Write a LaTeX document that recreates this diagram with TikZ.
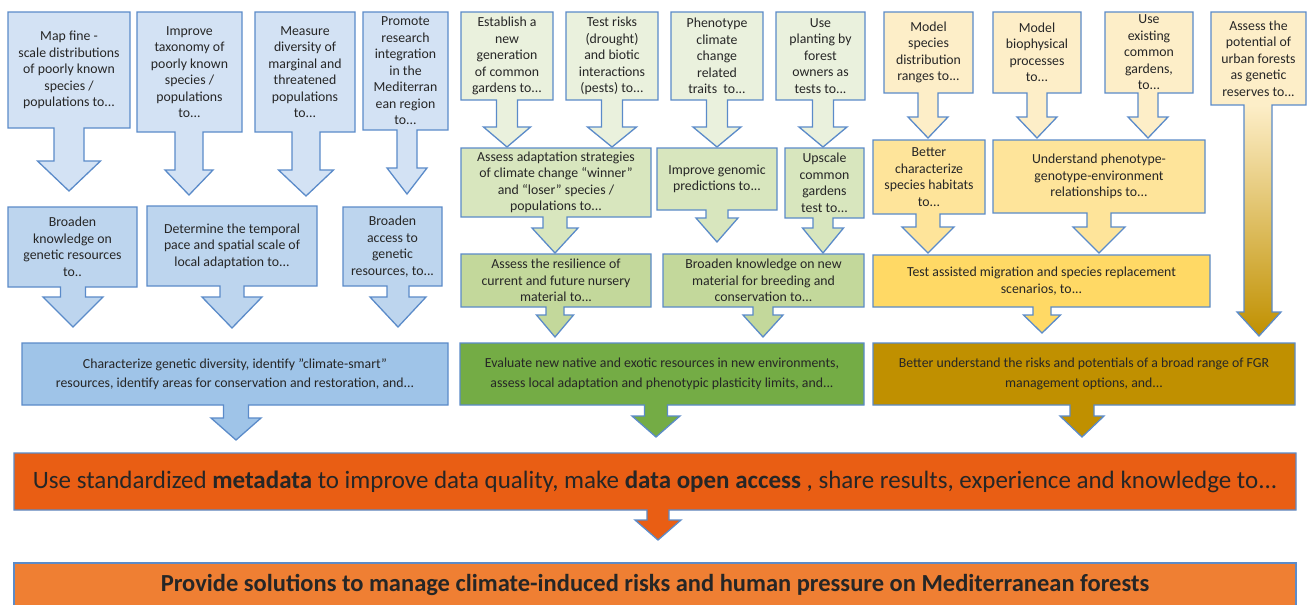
\documentclass[tikz,border=0pt]{standalone}
\usepackage{fontspec}
\setmainfont{Carlito}
\definecolor{bord}{HTML}{5B8BC9}
\definecolor{txtc}{HTML}{262626}
\definecolor{btop}{HTML}{D3E2F4}
\definecolor{bmid}{HTML}{BDD5EE}
\definecolor{bbig}{HTML}{9FC4E8}
\definecolor{gtop}{HTML}{EAF1DD}
\definecolor{gmid}{HTML}{D8E6BE}
\definecolor{glow}{HTML}{C3D89B}
\definecolor{gbig}{HTML}{74AC45}
\definecolor{ytop}{HTML}{FDEEC8}
\definecolor{ymid}{HTML}{FEE49A}
\definecolor{ylow}{HTML}{FFD965}
\definecolor{ybig}{HTML}{C09000}
\definecolor{ymidsh}{HTML}{FFD75E}
\definecolor{orng}{HTML}{E95E14}
\definecolor{orlt}{HTML}{EF7F33}
\tikzset{
  co/.style={draw=bord, line width=1.3pt, line join=miter},
  stxt/.style={align=center, text=txtc, font=\fontsize{13.8}{16.5}\selectfont, inner sep=0pt},
  btxt/.style={align=center, text=txtc, font=\fontsize{13.8}{19.5}\selectfont, inner sep=0pt},
  ltxt/.style={align=center, text=txtc, font=\fontsize{25}{28}\selectfont, inner sep=0pt}
}
\newcommand\sethw[2]{\def\sw{#1}\def\hw{#2}}
\newcommand\callout[9]{%
  \draw[co,fill=#2] (#3,#4) -- (#5,#4) -- (#5,#6) -- (#7+\sw,#6) -- (#7+\sw,#8) -- (#7+\hw,#8) -- (#7,#9) -- (#7-\hw,#8) -- (#7-\sw,#8) -- (#7-\sw,#6) -- (#3,#6) -- cycle;
  \coordinate (#1) at ({(#3+#5)/2},{(#4+#6)/2});
}
\newcommand\sq{\symbol{"22}}
\begin{document}
\begin{tikzpicture}[x=1pt,y=-1pt]
\useasboundingbox (0,0) rectangle (1307,605);
\clip (0,0) rectangle (1307,605);
\fill[white] (0,0) rectangle (1307,605);
% ---------- blue column
\sethw{15}{31.5}\callout{t1c}{btop}{8}{12}{130}{128}{69}{161}{191}
\sethw{14}{24}\callout{t2c}{btop}{137}{12}{242}{132}{189}{170}{195}
\sethw{14}{27.5}\callout{t3c}{btop}{255}{12}{355}{132}{306}{170}{196}
\sethw{10}{20}\callout{t4c}{btop}{363}{12}{448}{130}{407}{168}{194}
\sethw{12.5}{30}\callout{b1c}{bmid}{8}{207}{137}{287}{73}{297}{327}
\sethw{12}{30}\callout{b2c}{bmid}{147}{206}{317}{286}{232}{297}{328}
\sethw{11}{28}\callout{b3c}{bmid}{343}{207}{442}{286}{398}{297}{327}
\sethw{12.5}{25}\callout{bbc}{bbig}{22}{343}{448}{405}{236}{418}{440}
% ---------- green column
\sethw{10.5}{23.5}\callout{g1c}{gtop}{461}{12}{553}{100}{507}{127}{147}
\sethw{10.5}{24.5}\callout{g2c}{gtop}{566}{12}{658}{100}{612}{127}{147}
\sethw{10.5}{24}\callout{g3c}{gtop}{671}{12}{763}{100}{717}{127}{147}
\sethw{10.5}{24}\callout{g4c}{gtop}{776}{12}{865}{100}{823}{127}{147}
\sethw{12}{23}\callout{g5c}{gmid}{461}{148}{651}{217}{555}{228}{253}
\sethw{11}{21}\callout{g6c}{gmid}{657}{148}{777}{210}{717}{218}{242}
\sethw{10}{20.5}\callout{g7c}{gmid}{785}{148}{864}{218}{823}{228}{253}
\sethw{9}{18.5}\callout{g8c}{glow}{461}{254}{651}{307}{555}{315}{337}
\sethw{10}{20}\callout{g9c}{glow}{663}{254}{864}{307}{763}{315}{337}
\sethw{11.5}{24}\callout{gbc}{gbig}{460}{343}{864}{405}{656}{416}{437}
% ---------- yellow column
\sethw{10}{20}\callout{y1c}{ytop}{884}{12}{973}{93}{928}{117}{138}
\sethw{10}{20}\callout{y2c}{ytop}{993}{12}{1081}{93}{1037}{117}{138}
\sethw{10}{20}\callout{y3c}{ytop}{1105}{12}{1193}{93}{1148}{117}{138}
\sethw{12}{26}\callout{y5c}{ymid}{873}{140}{985}{214}{928}{227}{253}
\sethw{12}{26}\callout{y6c}{ymid}{993}{140}{1205}{213}{1099}{227}{253}
\sethw{9}{18.5}\callout{y7c}{ylow}{873}{255}{1210}{307}{1042}{315}{333}
\sethw{12}{22}\callout{ybc}{ybig}{873}{343}{1295}{405}{1082}{416}{437}
% long gradient arrow
\shade[top color=ytop, middle color=ymidsh, bottom color=ybig]
  (1244,105) -- (1272,105) -- (1272,312) -- (1281,312) -- (1259,336) -- (1237,312) -- (1244,312) -- cycle;
\fill[ytop] (1211,12) rectangle (1306,105);
\draw[co] (1211,12) -- (1306,12) -- (1306,105) -- (1272,105) -- (1272,312) -- (1281,312) -- (1259,336) -- (1237,312) -- (1244,312) -- (1244,105) -- (1211,105) -- cycle;
\coordinate (y4c) at (1258.5,58.5);
% ---------- bottom
\sethw{11}{23}\callout{orc}{orng}{14}{453}{1296}{510}{658}{520}{540}
\draw[co,fill=orlt] (14,563) rectangle (1296,620);
% ---------- texts
\node[stxt] (t1) at (t1c) {Map fine -\\scale distributions\\of poorly known\\species /\\populations to...};
\node[stxt] (t2) at (t2c) {Improve\\taxonomy of\\poorly known\\species /\\populations\\to...};
\node[stxt] (t3) at (t3c) {Measure\\diversity of\\marginal and\\threatened\\populations\\to...};
\node[stxt] (t4) at (t4c) {Promote\\research\\integration\\in the\\Mediterran\\ean region\\to...};
\node[stxt] (b1) at (b1c) {Broaden\\knowledge on\\genetic resources\\to..};
\node[stxt] (b2) at (b2c) {Determine the temporal\\pace and spatial scale of\\local adaptation to...};
\node[stxt] (b3) at (b3c) {Broaden\\access to\\genetic\\resources, to...};
\node[btxt] (bb) at (bbc) {Characterize genetic diversity, identify \sq climate-smart\sq\\resources, identify areas for conservation and restoration, and...};
\node[stxt] (g1) at (g1c) {Establish a\\new\\generation\\of common\\gardens to...};
\node[stxt] (g2) at (g2c) {Test risks\\(drought)\\and biotic\\interactions\\(pests) to...};
\node[stxt] (g3) at (g3c) {Phenotype\\climate\\change\\related\\traits\ \ to...};
\node[stxt] (g4) at (g4c) {Use\\planting by\\forest\\owners as\\tests to...};
\node[stxt] (g5) at (g5c) {Assess adaptation strategies\\of climate change “winner”\\and “loser” species /\\populations to...};
\node[stxt] (g6) at (g6c) {Improve genomic\\predictions to...};
\node[stxt] (g7) at (g7c) {Upscale\\common\\gardens\\test to...};
\node[stxt] (g8) at (g8c) {Assess the resilience of\\current and future nursery\\material to...};
\node[stxt] (g9) at (g9c) {Broaden knowledge on new\\material for breeding and\\conservation to...};
\node[btxt] (gb) at (gbc) {Evaluate new native and exotic resources in new environments,\\assess local adaptation and phenotypic plasticity limits, and...};
\node[stxt] (y1) at (y1c) {Model\\species\\distribution\\ranges to...};
\node[stxt] (y2) at (y2c) {Model\\biophysical\\processes\\to...};
\node[stxt] (y3) at (y3c) {Use\\existing\\common\\gardens,\\to...};
\node[stxt] (y4) at (y4c) {Assess the\\potential of\\urban forests\\as genetic\\reserves to...};
\node[stxt] (y5) at (y5c) {Better\\characterize\\species habitats\\to...};
\node[stxt] (y6) at (y6c) {Understand phenotype-\\genotype-environment\\relationships to...};
\node[stxt] (y7) at (y7c) {Test assisted migration and species replacement\\scenarios, to...};
\node[btxt] (yb) at (ybc) {Better understand the risks and potentials of a broad range of FGR\\management options, and...};
\node[ltxt] (or) at (orc) {Use standardized \textbf{metadata} to improve data quality, make \textbf{data open access} , share results, experience and knowledge to...};
\node[ltxt, font=\bfseries\fontsize{24.5}{28}\selectfont] (fin) at (655,585) {Provide solutions to manage climate-induced risks and human pressure on Mediterranean forests};
\end{tikzpicture}
\end{document}
